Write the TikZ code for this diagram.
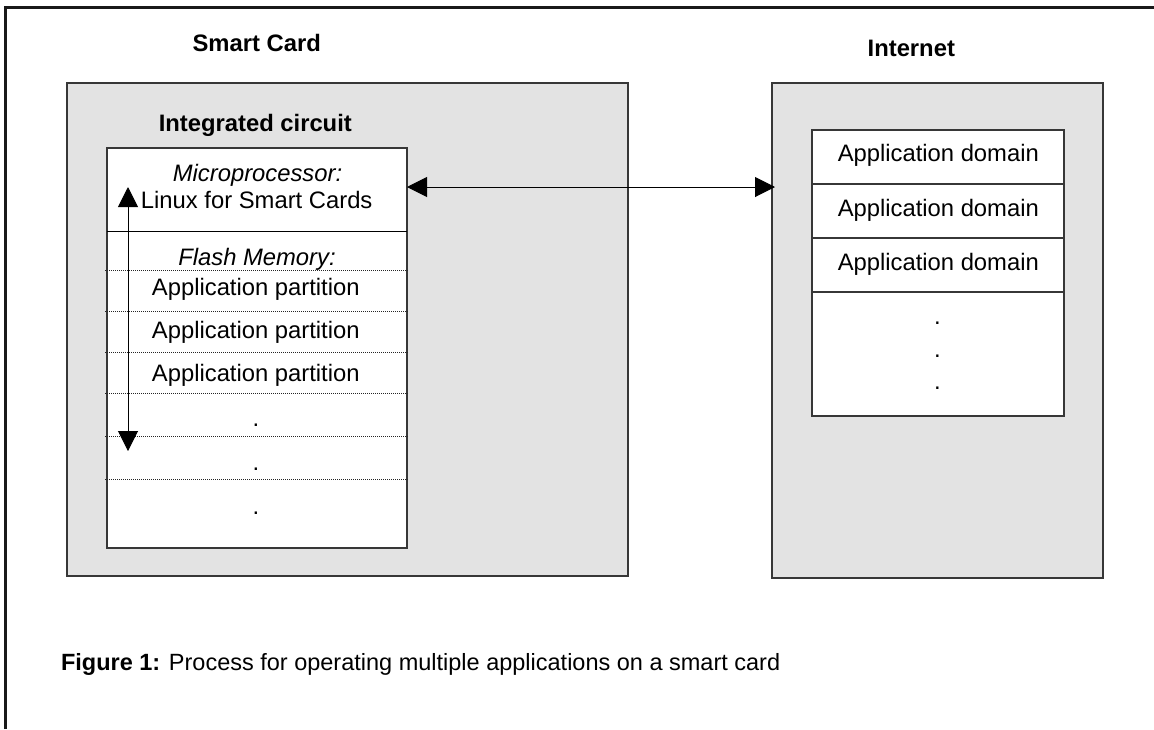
\documentclass[tikz,border=0pt]{standalone}
\usepackage{fontspec}
\setmainfont{Liberation Sans}
\usetikzlibrary{arrows.meta}
\definecolor{boxgray}{RGB}{227,227,227}
\definecolor{edgegray}{RGB}{55,55,55}
\begin{document}
\begin{tikzpicture}[x=1pt,y=-1pt,
  box/.style={draw=edgegray, line width=1.2pt, inner sep=0pt, outer sep=0pt, anchor=north west},
  graybox/.style={box, fill=boxgray},
  whitebox/.style={box, fill=white},
  lbl/.style={font=\fontsize{23.8}{28}\selectfont, inner sep=0pt, outer sep=0pt, anchor=base},
  title/.style={lbl, font=\fontsize{23.8}{28}\selectfont\bfseries},
  ital/.style={lbl, font=\fontsize{23.8}{28}\selectfont\itshape},
  caption/.style={font=\fontsize{23.5}{28}\selectfont, inner sep=0pt, outer sep=0pt, anchor=base west},
  sep/.style={draw=black, line width=1pt},
  dotsep/.style={draw=black!85, line width=0.7pt, dash pattern=on 1pt off 1pt},
  dbl/.style={draw=black, line width=1pt, {Triangle[length=20pt,width=20pt]}-{Triangle[length=20pt,width=20pt]}},
  frameline/.style={draw=black!90, line width=2.4pt}
]
\useasboundingbox (0,0) rectangle (1154,729);

% page frame (top and left edges)
\coordinate (fbl) at (5.5,729);
\coordinate (ftl) at (5.5,7.5);
\coordinate (ftr) at (1154,7.5);
\draw[frameline] (fbl) -- (ftl) -- (ftr);

% titles
\node[title] (tsc) at (256.7,51.7) {Smart Card};
\node[title] (tin) at (911.3,56) {Internet};

% smart card
\node[graybox, minimum width=561pt, minimum height=493pt] (sc) at (67,83) {};
\node[title] (tic) at (255.3,131.7) {Integrated circuit};
\node[whitebox, minimum width=300pt, minimum height=400pt] (ic) at (107,148) {};

% separators inside the integrated circuit
\coordinate (s0l) at (107,231);   \coordinate (s0r) at (407,231);
\draw[sep] (s0l) -- (s0r);
\foreach \yy/\nm in {270.7/a,311/b,352.3/c,393.3/d,436.7/e,479.3/f}{
  \coordinate (d\nm l) at (105,\yy);
  \coordinate (d\nm r) at (407.5,\yy);
  \draw[dotsep] (d\nm l) -- (d\nm r);
}

\node[ital] (mp) at (257.5,181.7) {Microprocessor:};
\node[lbl] (lx) at (256.7,208.3) {Linux for Smart Cards};
\node[ital] (fm) at (257,265) {Flash Memory:};
\node[lbl] (ap1) at (255.8,295) {Application partition};
\node[lbl] (ap2) at (255.8,338.3) {Application partition};
\node[lbl] (ap3) at (255.8,381.7) {Application partition};
\node[lbl] (pd1) at (256,426.5) {.};
\node[lbl] (pd2) at (256,470.5) {.};
\node[lbl] (pd3) at (256,514.5) {.};

% internet
\node[graybox, minimum width=331pt, minimum height=495pt] (inet) at (772,83) {};
\node[whitebox, minimum width=252pt, minimum height=54pt] (ad1) at (812,130) {};
\node[whitebox, minimum width=252pt, minimum height=54pt] (ad2) at (812,184) {};
\node[whitebox, minimum width=252pt, minimum height=54pt] (ad3) at (812,238) {};
\node[whitebox, minimum width=252pt, minimum height=124pt] (ad4) at (812,292) {};
\node[lbl] (adt1) at (938.3,161.7) {Application domain};
\node[lbl] (adt2) at (938.3,216) {Application domain};
\node[lbl] (adt3) at (938.3,270.7) {Application domain};
\node[lbl] (id1) at (937.5,324.5) {.};
\node[lbl] (id2) at (937.5,357.5) {.};
\node[lbl] (id3) at (937.5,389.5) {.};

% arrows
\coordinate (hl) at (408,187);
\coordinate (hr) at (775,187);
\draw[dbl] (ic.east |- hl) -- ([xshift=3pt]inet.west |- hr);
\coordinate (vt) at (128,187);
\coordinate (vb) at (128,451);
\draw[dbl] (vt) -- (vb);

% caption
\node[caption] (cap) at (61,670) {\textbf{Figure 1:} Process for operating multiple applications on a smart card};
\end{tikzpicture}
\end{document}
